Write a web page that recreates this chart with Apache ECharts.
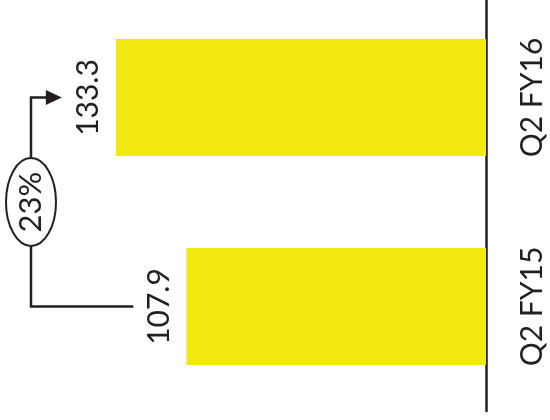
<!DOCTYPE html>
<html>
<head>
<meta charset="utf-8">
<script src="https://cdn.jsdelivr.net/npm/echarts@6/dist/echarts.min.js"></script>
<style>
  html, body { margin: 0; padding: 0; background: #fff; }
  #chart { width: 550px; height: 420px; }
</style>
</head>
<body>
<div id="chart"></div>
<script>
// Quarterly figures, bottom category first
const categories = ['Q2 FY15', 'Q2 FY16'];
const values = [107.9, 133.3];
const growthLabel = '23%';

const FONT = "Lato, 'DejaVu Sans', sans-serif";
const INK = '#231f20';
const YELLOW = '#f2e90e';

const chart = echarts.init(document.getElementById('chart'), null, { renderer: 'canvas' });

chart.setOption({
  animation: false,
  grid: { left: 0, right: 64, top: -7, bottom: 9, outerBoundsMode: 'none', containLabel: false },
  xAxis: {
    type: 'value',
    inverse: true,
    min: 0,
    max: 175,
    show: false
  },
  yAxis: {
    type: 'category',
    position: 'right',
    data: categories,
    axisLine: { show: true, lineStyle: { color: INK, width: 2.5 } },
    axisTick: { show: false },
    axisLabel: {
      rotate: 90,
      margin: 31,
      color: INK,
      fontFamily: FONT,
      fontWeight: 'normal',
      fontSize: 30
    }
  },
  series: [{
    type: 'bar',
    data: values,
    barWidth: 117,
    itemStyle: { color: YELLOW },
    label: {
      show: true,
      position: 'left',
      distance: 12,
      rotate: 90,
      align: 'center',
      verticalAlign: 'bottom',
      color: INK,
      fontFamily: FONT,
      fontWeight: 'normal',
      fontSize: 30,
      formatter: p => p.value.toFixed(1)
    }
  }]
});

// Growth bracket between the two bars
const y15 = chart.convertToPixel({ yAxisIndex: 0 }, categories[0]);
const y16 = chart.convertToPixel({ yAxisIndex: 0 }, categories[1]);
const x15 = chart.convertToPixel({ xAxisIndex: 0 }, values[0]);
const x16 = chart.convertToPixel({ xAxisIndex: 0 }, values[1]);
const bx = 31;
const cy = (y15 + y16) / 2;
const rx = 25, ry = 44;
const tipX = x16 - 54;
const lineStyle = { stroke: INK, lineWidth: 2.5, fill: null };

chart.setOption({
  graphic: [
    { type: 'polyline', shape: { points: [[bx, cy + ry], [bx, y15], [x15 - 53, y15]] }, style: lineStyle },
    { type: 'polyline', shape: { points: [[bx, cy - ry], [bx, y16], [tipX - 12, y16]] }, style: lineStyle },
    { type: 'polygon', shape: { points: [[tipX - 16, y16 - 7.5], [tipX, y16], [tipX - 16, y16 + 7.5]] }, style: { fill: INK } },
    { type: 'ellipse', shape: { cx: bx, cy: cy, rx: rx, ry: ry }, style: { stroke: INK, lineWidth: 2, fill: '#fff' } },
    {
      type: 'text',
      x: bx, y: cy,
      rotation: Math.PI / 2,
      style: {
        text: growthLabel,
        fill: INK,
        font: 'normal 31px ' + FONT,
        align: 'center',
        verticalAlign: 'middle'
      }
    }
  ]
});
</script>
</body>
</html>
